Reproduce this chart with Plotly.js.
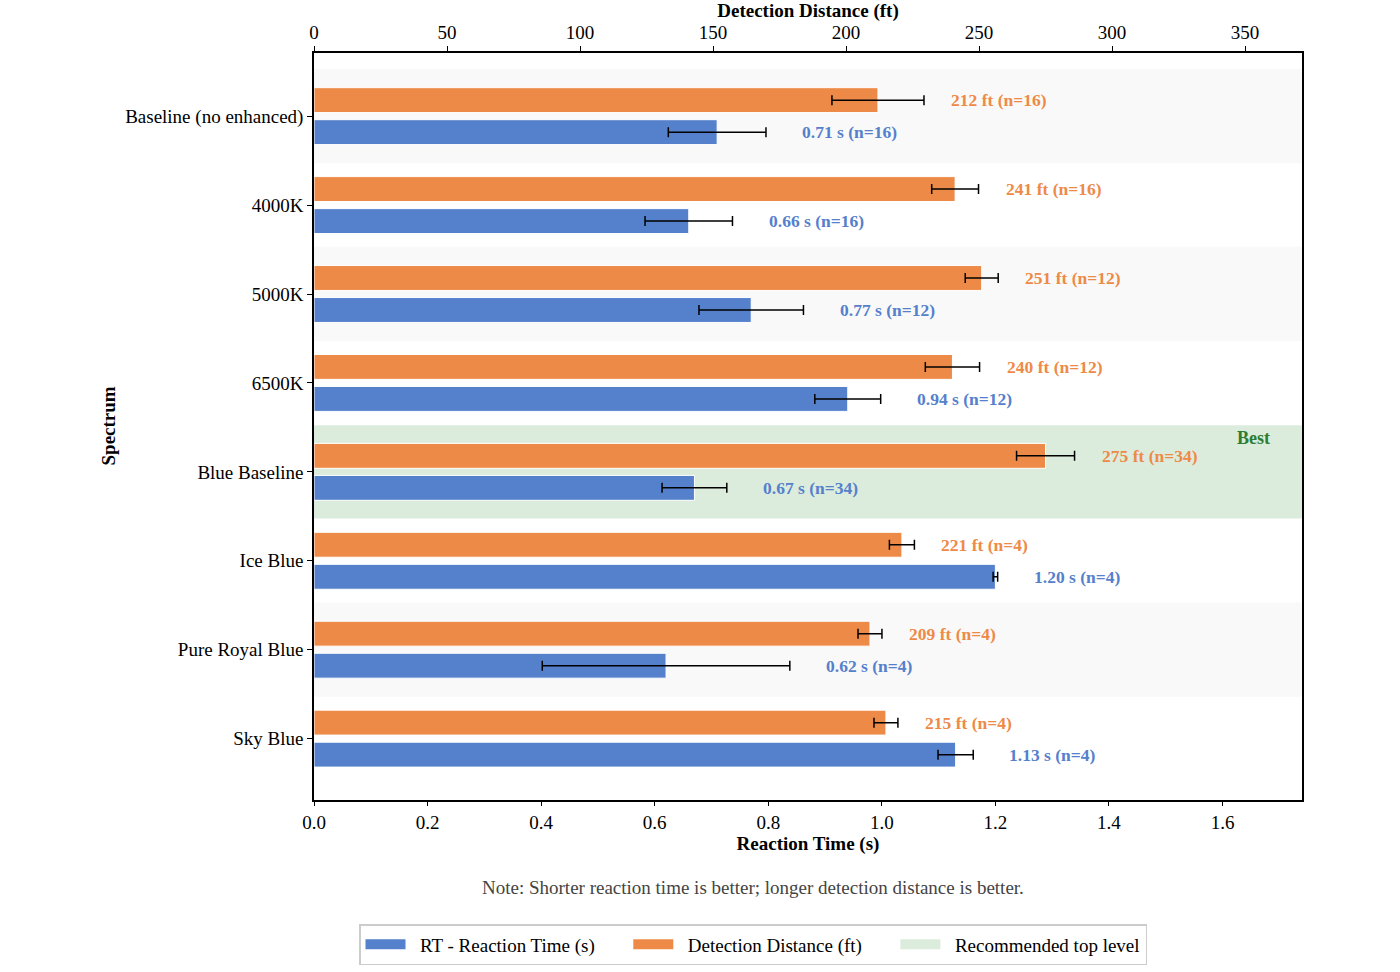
<!DOCTYPE html>
<html><head><meta charset="utf-8">
<script src="https://cdn.plot.ly/plotly-3.0.1.min.js"></script>
<style>body{margin:0;background:#fff}#chart{width:1400px;height:972px}</style>
</head><body><div id="chart"></div>
<script>
const categories = ["Baseline (no enhanced)","4000K","5000K","6500K","Blue Baseline","Ice Blue","Pure Royal Blue","Sky Blue"];
const rtValues = [0.71,0.66,0.77,0.94,0.67,1.20,0.62,1.13];
const rtErrors = [0.086,0.077,0.092,0.058,0.057,0.004,0.218,0.031];
const ddValues = [212,241,251,240,275,221,209,215];
const ddErrors = [17.3,8.8,6.2,10.2,10.9,4.7,4.5,4.5];
const nCounts = [16,16,12,12,34,4,4,4];
const bestIndex = 4;
const legendNames = ["RT - Reaction Time (s)","Detection Distance (ft)","Recommended top level"];

const font = "Liberation Serif, Times New Roman, serif";
const blue = "#5580cc", orange = "#ee8a47", green = "#dcecdc";
const idx = categories.map((c,i)=>i);
const off = 0.18, bw = 0.28;

const traces = [
  {type:'bar', orientation:'h', name:legendNames[0], x:rtValues, y:idx.map(i=>i+off), width:bw, showlegend:false,
   marker:{color:blue, line:{color:'#fff', width:1}}, xaxis:'x', yaxis:'y',
   error_x:{type:'data', array:rtErrors, color:'#000', thickness:1.5, width:5}},
  {type:'bar', orientation:'h', name:legendNames[1], x:ddValues, y:idx.map(i=>i-off), width:bw, showlegend:false,
   marker:{color:orange, line:{color:'#fff', width:1}}, xaxis:'x2', yaxis:'y',
   error_x:{type:'data', array:ddErrors, color:'#000', thickness:1.5, width:5}},
];
[blue, orange, green].forEach((c,k)=>{
  const pad = k < 2 ? '\u2002\u2002\u2002' : '';
  traces.push({type:'scatter', mode:'lines', name:'\u2002' + legendNames[k] + pad, x:[null], y:[null],
    line:{color:c, width:17}, xaxis:'x', yaxis:'y', hoverinfo:'skip'});
});

const shapes = [];
idx.forEach(i=>{
  if (i===bestIndex) {
    shapes.push({type:'rect', xref:'paper', yref:'y', x0:0, x1:1, y0:i-0.525, y1:i+0.525, fillcolor:green, line:{width:0}, layer:'below'});
  } else if (i%2===0) {
    shapes.push({type:'rect', xref:'paper', yref:'y', x0:0, x1:1, y0:i-0.53, y1:i+0.53, fillcolor:'#f9f9f9', line:{width:0}, layer:'below'});
  }
});

const annotations = [];
idx.forEach(i=>{
  annotations.push({xref:'x2', yref:'y', x:ddValues[i]+ddErrors[i]+9.4, y:i-off, xanchor:'left', yanchor:'middle',
    text:'<b>'+ddValues[i]+' ft (n='+nCounts[i]+')</b>', showarrow:false, font:{family:font, size:17.5, color:orange}});
  annotations.push({xref:'x', yref:'y', x:rtValues[i]+rtErrors[i]+0.06, y:i+off, xanchor:'left', yanchor:'middle',
    text:'<b>'+rtValues[i].toFixed(2)+' s (n='+nCounts[i]+')</b>', showarrow:false, font:{family:font, size:17.5, color:blue}});
});
annotations.push({xref:'paper', yref:'y', x:0.97, y:bestIndex-0.525, xanchor:'right', yanchor:'top', yshift:-1,
  text:'<b>Best</b>', showarrow:false, font:{family:font, size:18, color:'#2e7d32'}});
annotations.push({xref:'paper', yref:'paper', x:-0.2085, y:0.5, xanchor:'center', yanchor:'middle', textangle:-90,
  text:'<b>Spectrum</b>', showarrow:false, font:{family:font, size:19, color:'#000'}});
annotations.push({xref:'paper', yref:'paper', x:0.444, y:-0.1165, xanchor:'center', yanchor:'middle',
  text:'Note: Shorter reaction time is better; longer detection distance is better.', showarrow:false, font:{family:font, size:19, color:'#444'}});

const layout = {
  width:1400, height:972,
  margin:{l:314, r:98, t:53, b:172, autoexpand:false},
  paper_bgcolor:'#fff', plot_bgcolor:'#fff',
  font:{family:font, size:19, color:'#000'},
  barmode:'overlay', showlegend:true,
  xaxis:{range:[0,1.74], dtick:0.2, tickformat:'.1f', showgrid:false, zeroline:false, showline:true, linecolor:'#000', linewidth:1.5, mirror:true,
    ticks:'outside', ticklen:4, tickcolor:'#000', tickfont:{size:19},
    title:{text:'<b>Reaction Time (s)</b>', font:{size:19}, standoff:4}},
  xaxis2:{overlaying:'x', side:'top', range:[0,371.4], dtick:50, showgrid:false, zeroline:false, showline:true, linecolor:'#000', linewidth:1.5,
    ticks:'outside', ticklen:5, tickcolor:'#000', tickfont:{size:19},
    title:{text:'<b>Detection Distance (ft)</b>', font:{size:19}, standoff:9}},
  yaxis:{range:[7.69,-0.71], tickvals:idx, ticktext:categories, showgrid:false, zeroline:false, showline:true, linecolor:'#000', linewidth:1.5, mirror:true,
    ticks:'outside', ticklen:5, tickcolor:'#000', tickfont:{size:19}},
  legend:{orientation:'h', xref:'container', yref:'container', x:753/1400, xanchor:'center', y:1-924/972, yanchor:'top',
    bordercolor:'#ccc', borderwidth:1.5, font:{size:19}, traceorder:'normal', itemwidth:40},
  shapes:shapes, annotations:annotations
};
Plotly.newPlot('chart', traces, layout, {displayModeBar:false});
</script></body></html>
